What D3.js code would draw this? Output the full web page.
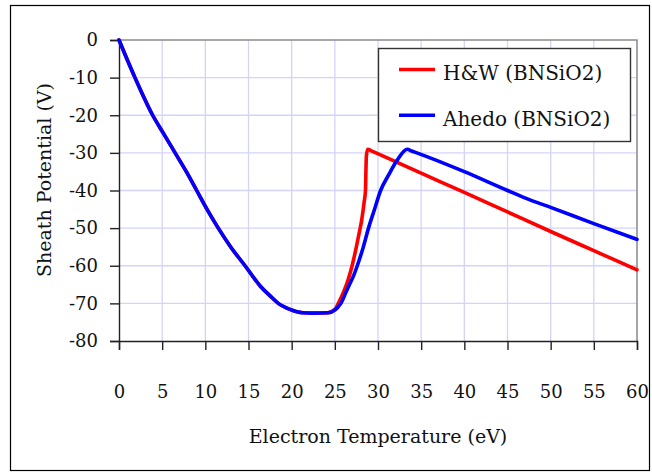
<!DOCTYPE html>
<html>
<head>
<meta charset="utf-8">
<script src="https://d3js.org/d3.v7.min.js"></script>
<style>
  body{ margin:0; background:#fff; }
</style>
</head>
<body>
<svg id="vis"></svg>
<script>
  var width = 652,
    height = 473,
    serifFont = "DejaVu Serif";

  // data -------------------------------------------------
  var seriesNames = ["H&W (BNSiO2)", "Ahedo (BNSiO2)"];
  var seriesColors = ["#ff0000", "#0000ff"];

  var hwData = [
    [0,0],[1.85,-10],[3.9,-20],[5.2,-25],[6.5,-30],[7.8,-35],[9.0,-40],[10.2,-45],[11.5,-50],
    [13.0,-55.2],[14.6,-60],[16.4,-65.5],[17.5,-68],[18.45,-70],[19.8,-71.6],[21.3,-72.5],
    [22.5,-72.6],[24.2,-72.5],[25.0,-71.6],
    [25.5,-69.5],[26.0,-67],[26.5,-64],[27.0,-60],[27.4,-56],[27.8,-51.5],[28.1,-48],
    [28.4,-43],[28.55,-40],[28.6,-35],[28.65,-31],[28.8,-29.05],[29.3,-29.55],
    [35,-35.4],[40,-40.5],[45,-45.7],[50,-50.9],[55,-56.0],[60,-61.1]
  ];

  var ahedoData = [
    [0,0],[1.85,-10],[3.9,-20],[5.2,-25],[6.5,-30],[7.8,-35],[9.0,-40],[10.2,-45],[11.5,-50],
    [13.0,-55.2],[14.6,-60],[16.4,-65.5],[17.5,-68],[18.45,-70],[19.8,-71.6],[21.3,-72.5],
    [22.5,-72.6],[24.2,-72.5],[25.0,-71.8],
    [25.4,-70.9],[25.7,-70],[26.3,-67],[26.7,-65],[27.2,-62.5],[27.6,-60],[28.3,-55],
    [28.9,-50],[29.6,-45],[30.3,-40],[31.2,-36],[32.2,-32],[33.4,-29.05],[33.9,-29.5],[34.5,-30],
    [40,-35],[45,-40],[47.6,-42.5],[50,-44.5],[55,-48.8],[60,-53]
  ];

  var xTicks = [0,5,10,15,20,25,30,35,40,45,50,55,60];
  var yTicks = [0,-10,-20,-30,-40,-50,-60,-70,-80];

  var xTitle = "Electron Temperature (eV)";
  var yTitle = "Sheath Potential (V)";

  // scaling -------------------------------------------------
  var plot = {left:119, right:637, top:40, bottom:341};

  var x = d3.scaleLinear().domain([0, 60]).range([plot.left, plot.right]);
  var y = d3.scaleLinear().domain([-80, 0]).range([plot.bottom, plot.top]);

  var svg = d3.select("#vis")
    .attr("width", width)
    .attr("height", height);

  // outer frame
  svg.append("rect")
    .attr("x", 10.5).attr("y", 5.5)
    .attr("width", 639).attr("height", 465)
    .style("fill", "none")
    .style("stroke", "#000")
    .style("stroke-width", 1.2);

  // grid -------------------------------------------------
  svg.append("g").selectAll("line")
    .data(xTicks.slice(1))
    .enter().append("line")
    .attr("x1", d => x(d)).attr("x2", d => x(d))
    .attr("y1", plot.top).attr("y2", plot.bottom)
    .style("stroke", "#d4d4fa").style("stroke-width", 1.3);

  svg.append("g").selectAll("line")
    .data(yTicks.slice(1, -1))
    .enter().append("line")
    .attr("x1", plot.left).attr("x2", plot.right)
    .attr("y1", d => y(d)).attr("y2", d => y(d))
    .style("stroke", "#d4d4fa").style("stroke-width", 1.3);

  // top / right border
  svg.append("path")
    .attr("d", "M" + plot.left + "," + plot.top + "H" + plot.right + "V" + plot.bottom)
    .style("fill", "none").style("stroke", "#8a8a8a").style("stroke-width", 1.4);

  // axes -------------------------------------------------
  var xAxis = svg.append("g")
    .attr("transform", "translate(0," + plot.bottom + ")")
    .call(d3.axisBottom(x).tickValues(xTicks).tickSize(9).tickPadding(35).tickFormat(d3.format("d")));

  var yAxis = svg.append("g")
    .attr("transform", "translate(" + plot.left + ",0)")
    .call(d3.axisLeft(y).tickValues(yTicks).tickSize(9).tickPadding(12).tickFormat(d => d == 0 ? "0" : "-" + Math.abs(d)));

  [xAxis, yAxis].forEach(function(a) {
    a.attr("font-family", serifFont).attr("font-size", 18);
    a.select(".domain").style("stroke", "#222").style("stroke-width", 1.4);
    a.selectAll(".tick line").style("stroke", "#222").style("stroke-width", 1.4);
    a.selectAll(".tick text").attr("fill", "#111");
  });

  // titles
  svg.append("text")
    .attr("x", (plot.left + plot.right) / 2)
    .attr("y", 443)
    .attr("text-anchor", "middle")
    .attr("font-family", serifFont)
    .attr("font-size", 19)
    .attr("fill", "#111")
    .text(xTitle);

  svg.append("text")
    .attr("transform", "translate(51,180) rotate(-90)")
    .attr("text-anchor", "middle")
    .attr("font-family", serifFont)
    .attr("font-size", 19)
    .attr("fill", "#111")
    .text(yTitle);

  // lines -------------------------------------------------
  var line = d3.line()
    .curve(d3.curveMonotoneX)
    .x(d => x(d[0]))
    .y(d => y(d[1]));

  [hwData, ahedoData].forEach(function(data, i) {
    svg.append("path")
      .datum(data)
      .attr("d", line)
      .style("fill", "none")
      .style("stroke", seriesColors[i])
      .style("stroke-width", 3.6)
      .style("stroke-linejoin", "round")
      .style("stroke-linecap", "round");
  });

  // legend -------------------------------------------------
  var legend = svg.append("g");
  legend.append("rect")
    .attr("x", 378.5).attr("y", 48.5)
    .attr("width", 252).attr("height", 93)
    .style("fill", "#fff")
    .style("stroke", "#333")
    .style("stroke-width", 1.4);

  var items = legend.selectAll("g.item")
    .data(seriesNames)
    .enter().append("g")
    .attr("class", "item")
    .attr("transform", (d, i) => "translate(0," + (69.5 + i * 45.7) + ")");

  items.append("line")
    .attr("x1", 399).attr("x2", 435)
    .attr("y1", 0).attr("y2", 0)
    .style("stroke", (d, i) => seriesColors[i])
    .style("stroke-width", 3.6);

  items.append("text")
    .attr("x", 443).attr("y", 10.5)
    .attr("font-family", serifFont)
    .attr("font-size", 20)
    .attr("fill", "#111")
    .text(d => d);
</script>
</body>
</html>
